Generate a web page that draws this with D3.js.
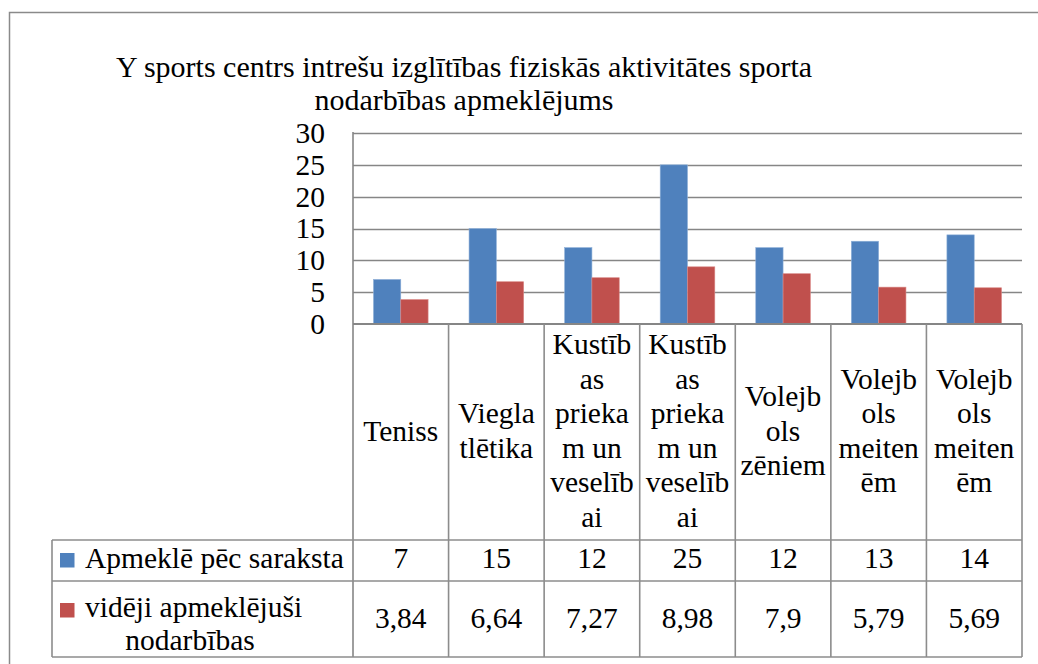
<!DOCTYPE html>
<html><head><meta charset="utf-8">
<script src="https://cdn.jsdelivr.net/npm/d3@7"></script>
<style>
html,body{margin:0;padding:0;background:#fff;}
svg{display:block;}
</style></head>
<body>
<script>
const titleLines = ["Y sports centrs intrešu izglītības fiziskās aktivitātes sporta", "nodarbības apmeklējums"];
const categories = ["Teniss", "Vieglatlētika", "Kustības priekam un veselībai", "Kustības priekam un veselībai", "Volejbols zēniem", "Volejbols meitenēm", "Volejbols meitenēm"];
const categoryLabelLines = [["Teniss"], ["Viegla", "tlētika"], ["Kustīb", "as", "prieka", "m un", "veselīb", "ai"], ["Kustīb", "as", "prieka", "m un", "veselīb", "ai"], ["Volejb", "ols", "zēniem"], ["Volejb", "ols", "meiten", "ēm"], ["Volejb", "ols", "meiten", "ēm"]];
const seriesNames = ["Apmeklē pēc saraksta", "vidēji apmeklējuši nodarbības"];
const seriesLegendLines = [["Apmeklē pēc saraksta"], ["vidēji apmeklējuši", "nodarbības"]];
const scheduled = [7, 15, 12, 25, 12, 13, 14];
const averageAttended = [3.84, 6.64, 7.27, 8.98, 7.9, 5.79, 5.69];
const yTicks = [0, 5, 10, 15, 20, 25, 30];
const seriesColors = ["#4F81BD", "#C0504D"];

const W = 1038, H = 664;
const FONT = "Liberation Serif";
const svg = d3.select("body").append("svg").attr("width", W).attr("height", H);
const FS = 29.5;
const gridColor = "#868686";
const tableColor = "#8c8c8c";
function txt(sel, fs) { return sel.style("font-family", FONT).attr("font-size", fs || FS).attr("fill", "#000"); }

// outer frame
svg.append("rect").attr("x", 9.5).attr("y", 12.5).attr("width", 1100).attr("height", 800)
  .attr("fill", "none").attr("stroke", "#8a8a8a").attr("stroke-width", 1.5);

// title
txt(svg.append("g").selectAll("text").data(titleLines).join("text")
  .attr("x", 464).attr("y", (d, i) => 77 + i * 33)
  .attr("text-anchor", "middle").text(d => d), 30);

const plotLeft = 353, plotRight = 1022, plotTop = 133, plotBottom = 324;
const y = d3.scaleLinear().domain([0, 30]).range([plotBottom, plotTop]);
const x = d3.scaleBand().domain(d3.range(categories.length)).range([plotLeft, plotRight]).padding(0);
const xs = d3.scaleBand().domain([0, 1]).range([0, x.bandwidth()]).paddingInner(0).paddingOuter(0.75);

// gridlines
svg.append("g").selectAll("line").data(yTicks.filter(t => t > 0)).join("line")
  .attr("x1", plotLeft).attr("x2", plotRight)
  .attr("y1", d => Math.round(y(d)) + 0.5).attr("y2", d => Math.round(y(d)) + 0.5)
  .attr("stroke", gridColor).attr("stroke-width", 1.3);

// y axis labels
const yAxis = d3.axisLeft(y).tickValues(yTicks).tickSize(0).tickPadding(0);
const yg = svg.append("g").attr("transform", `translate(${325},0)`).call(yAxis);
yg.attr("font-family", null).attr("font-size", null);
yg.select(".domain").remove();
txt(yg.selectAll("text")).attr("dy", "0.32em").attr("text-anchor", "end").attr("x", 0);

// bars
const seriesData = [scheduled, averageAttended];
seriesData.forEach((vals, s) => {
  svg.append("g").selectAll("rect").data(vals).join("rect")
    .attr("x", (d, i) => x(i) + xs(s))
    .attr("width", xs.bandwidth())
    .attr("y", d => y(d))
    .attr("height", d => y(0) - y(d))
    .attr("fill", seriesColors[s])
    .attr("stroke", s === 0 ? "#8fb0d8" : "#d98886").attr("stroke-width", 0.6);
});

// table structure
const tableLeft = 52, row1Top = 540, row2Top = 581, tableBottom = 657;
const tbl = svg.append("g").attr("stroke", tableColor).attr("stroke-width", 1.6);
tbl.append("line").attr("x1", plotLeft).attr("x2", plotRight).attr("y1", plotBottom).attr("y2", plotBottom).attr("stroke", gridColor).attr("stroke-width", 2);
tbl.append("line").attr("x1", plotLeft).attr("x2", plotLeft).attr("y1", plotTop - 1).attr("y2", tableBottom).attr("stroke", gridColor);
const edges = d3.range(1, categories.length + 1).map(i => i < categories.length ? x(i) : plotRight);
tbl.selectAll("line.col").data(edges).join("line").attr("class", "col")
  .attr("x1", d => d).attr("x2", d => d).attr("y1", plotBottom).attr("y2", tableBottom);
[row1Top, row2Top, tableBottom].forEach(yy => {
  tbl.append("line").attr("x1", tableLeft).attr("x2", plotRight).attr("y1", yy).attr("y2", yy);
});
tbl.append("line").attr("x1", tableLeft).attr("x2", tableLeft).attr("y1", row1Top).attr("y2", tableBottom);

// category labels
const lh = 34.6;
categoryLabelLines.forEach((lines, i) => {
  const cx = x(i) + x.bandwidth() / 2;
  txt(svg.append("g").selectAll("text").data(lines).join("text")
    .attr("x", cx).attr("y", (d, k) => 440.5 + (k - (lines.length - 1) / 2) * lh)
    .attr("text-anchor", "middle").text(d => d));
});

// table values
const fmt = v => String(v).replace(".", ",");
const rowBase = [568, 628];
seriesData.forEach((vals, s) => {
  txt(svg.append("g").selectAll("text").data(vals).join("text")
    .attr("x", (d, i) => x(i) + x.bandwidth() / 2).attr("y", rowBase[s])
    .attr("text-anchor", "middle").text(d => fmt(d)));
});

// legend in table
svg.append("rect").attr("x", 60).attr("y", 553).attr("width", 14.5).attr("height", 14.5).attr("fill", seriesColors[0]);
svg.append("rect").attr("x", 60).attr("y", 603).attr("width", 14.5).attr("height", 14.5).attr("fill", seriesColors[1]);
txt(svg.append("text").attr("x", 85).attr("y", 567.5).text(seriesLegendLines[0][0]));
txt(svg.append("text").attr("x", 85).attr("y", 616.5).text(seriesLegendLines[1][0]));
txt(svg.append("text").attr("x", 190).attr("y", 649.5).attr("text-anchor", "middle").text(seriesLegendLines[1][1]));
</script>
</body></html>
